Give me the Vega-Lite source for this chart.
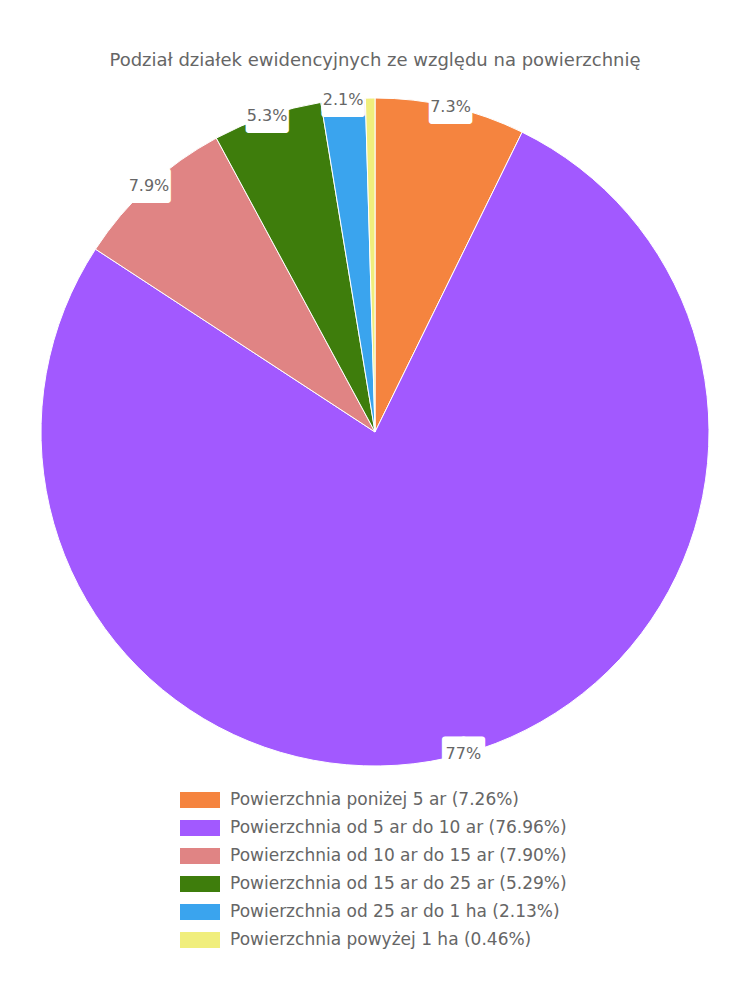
{
  "$schema": "https://vega.github.io/schema/vega-lite/v6.json",
  "autosize": "none",
  "padding": {"top": 0, "left": 0, "right": 0, "bottom": 136},
  "width": 750,
  "height": 864,
  "background": "white",
  "title": {
    "text": "Podział działek ewidencyjnych ze względu na powierzchnię",
    "orient": "top",
    "frame": "group",
    "anchor": "middle",
    "offset": -70,
    "font": "DejaVu Sans",
    "fontSize": 18,
    "fontWeight": "normal",
    "color": "#666666"
  },
  "data": {
    "values": [
      {"kategoria": "Powierzchnia poniżej 5 ar (7.26%)", "udzial": 7.26, "etykieta": "7.3%", "kolejnosc": 1},
      {"kategoria": "Powierzchnia od 5 ar do 10 ar (76.96%)", "udzial": 76.96, "etykieta": "77%", "kolejnosc": 2},
      {"kategoria": "Powierzchnia od 10 ar do 15 ar (7.90%)", "udzial": 7.90, "etykieta": "7.9%", "kolejnosc": 3},
      {"kategoria": "Powierzchnia od 15 ar do 25 ar (5.29%)", "udzial": 5.29, "etykieta": "5.3%", "kolejnosc": 4},
      {"kategoria": "Powierzchnia od 25 ar do 1 ha (2.13%)", "udzial": 2.13, "etykieta": "2.1%", "kolejnosc": 5},
      {"kategoria": "Powierzchnia powyżej 1 ha (0.46%)", "udzial": 0.46, "etykieta": "", "kolejnosc": 6}
    ]
  },
  "encoding": {
    "theta": {"field": "udzial", "type": "quantitative", "stack": true},
    "order": {"field": "kolejnosc", "type": "quantitative"},
    "color": {
      "field": "kategoria",
      "type": "nominal",
      "sort": {"field": "kolejnosc"},
      "scale": {
        "domain": [
          "Powierzchnia poniżej 5 ar (7.26%)",
          "Powierzchnia od 5 ar do 10 ar (76.96%)",
          "Powierzchnia od 10 ar do 15 ar (7.90%)",
          "Powierzchnia od 15 ar do 25 ar (5.29%)",
          "Powierzchnia od 25 ar do 1 ha (2.13%)",
          "Powierzchnia powyżej 1 ha (0.46%)"
        ],
        "range": ["#F5843F", "#A259FF", "#E08484", "#3E7D0C", "#3AA4EE", "#F0EE7C"]
      },
      "legend": {
        "orient": "none",
        "legendX": 180,
        "legendY": 780,
        "title": null,
        "direction": "vertical",
        "symbolType": "M-1,-0.4H1V0.4H-1Z",
        "symbolSize": 1600,
        "symbolStrokeWidth": 0,
        "symbolOpacity": 1,
        "labelFont": "DejaVu Sans",
        "labelFontSize": 17,
        "labelColor": "#666666",
        "labelOffset": 10,
        "rowPadding": -12,
        "labelLimit": 500
      }
    }
  },
  "layer": [
    {
      "mark": {"type": "arc", "outerRadius": 334, "stroke": "white", "strokeWidth": 1}
    },
    {
      "transform": [{"filter": "datum.etykieta != ''"}],
      "mark": {"type": "text", "radius": 334, "dy": 1, "font": "DejaVu Sans", "fontSize": 24, "baseline": "middle", "fill": "white", "stroke": "white", "strokeWidth": 6, "strokeJoin": "round"},
      "encoding": {"text": {"value": "██"}, "color": {"value": "white"}}
    },
    {
      "mark": {"type": "text", "radius": 334, "font": "DejaVu Sans", "fontSize": 16, "baseline": "middle", "fill": "#666666"},
      "encoding": {"text": {"field": "etykieta"}, "color": {"value": "#666666"}}
    }
  ]
}
